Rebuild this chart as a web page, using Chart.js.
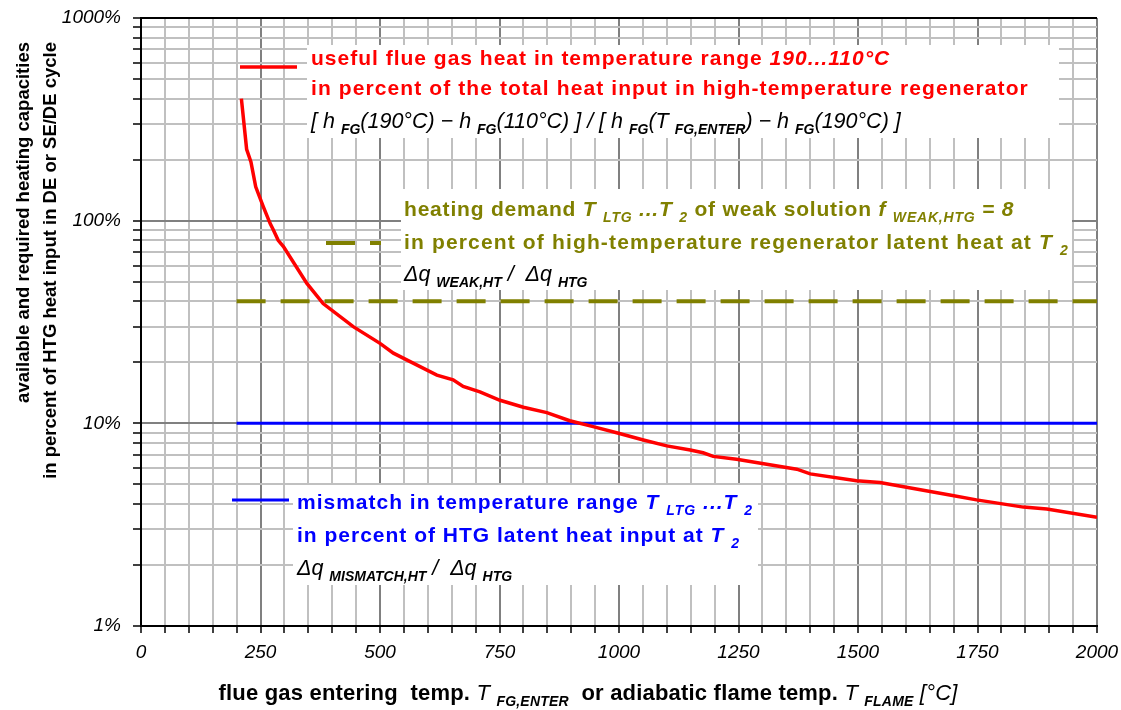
<!DOCTYPE html>
<html>
<head>
<meta charset="utf-8">
<script src="https://cdn.jsdelivr.net/npm/chart.js@4.4.0/dist/chart.umd.min.js"></script>
<style>
  html, body { margin: 0; padding: 0; background: #fff; }
  canvas { display: block; }
</style>
</head>
<body>
<canvas id="chart" width="1121" height="710"></canvas>
<script>
// dati (asse x in °C, asse y in %)
const flueGasTemp = [210, 221, 230, 240, 256, 270, 277, 287, 298, 347, 381, 444, 500, 528, 619, 653, 674, 709,
    751, 800, 849, 897, 946, 999, 1051, 1100, 1149, 1176, 1197, 1246, 1372, 1400, 1497, 1546, 1692, 1748, 1846, 1895, 2000];
const usefulHeatPct = [400, 225, 195, 147, 117, 97, 90, 80, 74.5, 49, 39, 30, 24.8, 22.2, 17.3, 16.4, 15.2, 14.3,
    13.0, 12.0, 11.3, 10.3, 9.63, 8.93, 8.28, 7.74, 7.39, 7.16, 6.87, 6.65, 5.94, 5.63, 5.21, 5.1, 4.43, 4.19, 3.86, 3.78, 3.44];
const lineTemp = [200, 2000];
const mismatchPct = [10, 10];
const weakDemandPct = [40, 40];

const xTickValues = [0, 250, 500, 750, 1000, 1250, 1500, 1750, 2000];
const yTickValues = [1, 10, 100, 1000];

const FONT = '"Liberation Sans", Arial, sans-serif';
const RED = '#ff0000', OLIVE = '#808000', BLUE = '#0000ff';

function toPoints(xs, ys) {
    return xs.map((x, i) => ({ x: x, y: ys[i] }));
}

// testo "ricco": segmenti [testo, stile, pedice, colore]
function setFont(ctx, style, size) {
    const it = style.includes('i') ? 'italic ' : '';
    const bd = style.includes('b') ? 'bold ' : '';
    ctx.font = it + bd + size + 'px ' + FONT;
}

function drawRich(ctx, x, y, segs, opt) {
    const size = opt.size, subSize = opt.subSize || Math.round(size * 0.62);
    ctx.save();
    ctx.textBaseline = 'alphabetic';
    ctx.textAlign = 'left';
    ctx.letterSpacing = (opt.spacing || 0) + 'px';
    let total = 0;
    segs.forEach(s => {
        setFont(ctx, s[1], s[2] ? subSize : size);
        total += ctx.measureText(s[0]).width;
    });
    let cx = x;
    if (opt.align === 'center') cx = x - total / 2;
    if (opt.align === 'right') cx = x - total;
    segs.forEach(s => {
        setFont(ctx, s[1], s[2] ? subSize : size);
        ctx.fillStyle = s[3] || opt.color;
        ctx.fillText(s[0], cx, s[2] ? y + size * 0.28 : y);
        cx += ctx.measureText(s[0]).width;
    });
    ctx.restore();
}

const notesPlugin = {
    id: 'notes',
    beforeDatasetsDraw(chart) {
        const ctx = chart.ctx;
        ctx.save();
        // riquadri bianchi delle legende
        ctx.fillStyle = '#fff';
        ctx.fillRect(307, 45, 752, 93);
        ctx.fillRect(401, 189, 671, 101);
        ctx.fillRect(293, 485, 465, 100);

        // chiavi delle linee
        ctx.lineWidth = 3.5;
        ctx.strokeStyle = RED;
        ctx.beginPath(); ctx.moveTo(240, 67); ctx.lineTo(297, 67); ctx.stroke();
        ctx.strokeStyle = BLUE;
        ctx.lineWidth = 3;
        ctx.beginPath(); ctx.moveTo(232, 500); ctx.lineTo(289, 500); ctx.stroke();
        ctx.strokeStyle = OLIVE;
        ctx.lineWidth = 4;
        ctx.setLineDash([29, 15]);
        ctx.beginPath(); ctx.moveTo(326, 243); ctx.lineTo(381, 243); ctx.stroke();
        ctx.setLineDash([]);
        ctx.restore();

        const big = { size: 21, subSize: 14, spacing: 1 };
        const fml = { size: 21.5, subSize: 14, spacing: 0, color: '#000' };

        drawRich(ctx, 311, 65, [['useful flue gas heat in temperature range ', 'b'], ['190...110°C', 'bi']], { ...big, color: RED });
        drawRich(ctx, 311, 95, [['in percent of the total heat input in high-temperature regenerator', 'b']], { ...big, spacing: 1.1, color: RED });
        drawRich(ctx, 311, 128, [
            ['[ h ', 'i'], ['FG', 'bi', true], ['(190°C) − h ', 'i'], ['FG', 'bi', true],
            ['(110°C) ] / [ h ', 'i'], ['FG', 'bi', true], ['(T ', 'i'], ['FG,ENTER', 'bi', true],
            [') − h ', 'i'], ['FG', 'bi', true], ['(190°C) ]', 'i']
        ], fml);

        drawRich(ctx, 404, 216, [
            ['heating demand ', 'b'], ['T ', 'bi'], ['LTG', 'bi', true], [' ...T ', 'bi'], ['2', 'bi', true],
            [' of weak solution ', 'b'], ['f ', 'bi'], ['WEAK,HTG', 'bi', true], [' = 8', 'bi']
        ], { ...big, spacing: 0.8, color: OLIVE });
        drawRich(ctx, 404, 249, [['in percent of high-temperature regenerator latent heat at ', 'b'], ['T ', 'bi'], ['2', 'bi', true]],
            { ...big, spacing: 1.15, color: OLIVE });
        drawRich(ctx, 404, 281, [['Δq ', 'i'], ['WEAK,HT', 'bi', true], [' /  Δq ', 'i'], ['HTG', 'bi', true]], fml);

        drawRich(ctx, 297, 509, [
            ['mismatch in temperature range ', 'b'], ['T ', 'bi'], ['LTG', 'bi', true], [' ...T ', 'bi'], ['2', 'bi', true]
        ], { ...big, color: BLUE });
        drawRich(ctx, 297, 542, [['in percent of HTG latent heat input at ', 'b'], ['T ', 'bi'], ['2', 'bi', true]],
            { ...big, color: BLUE });
        drawRich(ctx, 297, 575, [['Δq ', 'i'], ['MISMATCH,HT', 'bi', true], [' /  Δq ', 'i'], ['HTG', 'bi', true]], fml);
    },
    afterDraw(chart) {
        const ctx = chart.ctx;
        // titolo asse x
        drawRich(ctx, 588, 700, [
            ['flue gas entering  temp. ', 'b'], ['T ', 'i'], ['FG,ENTER', 'bi', true],
            ['  or adiabatic flame temp. ', 'b'], ['T ', 'i'], ['FLAME', 'bi', true], [' [°C]', 'i']
        ], { size: 22, subSize: 14, spacing: 0.2, color: '#000', align: 'center' });
        // titolo asse y (due righe ruotate, allineate in alto)
        ctx.save();
        ctx.translate(22, 42);
        ctx.rotate(-Math.PI / 2);
        drawRich(ctx, 0, 7, [['available and required heating capacities', 'b']], { size: 18.5, color: '#000', align: 'right' });
        ctx.restore();
        ctx.save();
        ctx.translate(49, 42);
        ctx.rotate(-Math.PI / 2);
        drawRich(ctx, 0, 7, [['in percent of HTG heat input in DE or SE/DE cycle', 'b']], { size: 18.5, color: '#000', align: 'right' });
        ctx.restore();
    }
};

const ctx = document.getElementById('chart').getContext('2d');
new Chart(ctx, {
    type: 'scatter',
    data: {
        datasets: [
            {
                label: 'useful flue gas heat',
                data: toPoints(flueGasTemp, usefulHeatPct),
                showLine: true,
                borderColor: RED,
                borderWidth: 3.5,
                pointRadius: 0,
                order: 0
            },
            {
                label: 'heating demand',
                data: toPoints(lineTemp, weakDemandPct),
                showLine: true,
                borderColor: OLIVE,
                borderWidth: 4,
                borderDash: [29, 15],
                pointRadius: 0,
                order: 1
            },
            {
                label: 'mismatch',
                data: toPoints(lineTemp, mismatchPct),
                showLine: true,
                borderColor: BLUE,
                borderWidth: 3,
                pointRadius: 0,
                order: 2
            }
        ]
    },
    options: {
        responsive: false,
        animation: false,
        layout: { padding: { top: 18, right: 24, left: 0, bottom: 0 } },
        plugins: {
            legend: { display: false },
            tooltip: { enabled: false }
        },
        scales: {
            x: {
                type: 'linear',
                min: 0,
                max: 2000,
                afterBuildTicks: scale => {
                    const t = [];
                    for (let v = 0; v <= 2000; v += 50) t.push({ value: v });
                    scale.ticks = t;
                },
                afterFit: scale => {
                    scale.height = 84;
                    scale.paddingLeft = 0;
                    scale.paddingRight = 0;
                },
                ticks: {
                    autoSkip: false,
                    maxRotation: 0,
                    padding: 8,
                    color: '#000',
                    font: { family: FONT, size: 19, style: 'italic' },
                    callback: v => xTickValues.includes(v) ? String(v) : ''
                },
                grid: {
                    color: c => (c.tick && c.tick.value % 250 === 0) ? '#808080' : '#c0c0c0',
                    lineWidth: 2,
                    tickColor: '#000',
                    tickLength: 7,
                    tickWidth: 1.5
                },
                border: { color: '#000', width: 2 }
            },
            y: {
                type: 'logarithmic',
                min: 1,
                max: 1000,
                afterBuildTicks: scale => {
                    const t = [];
                    [1, 10, 100].forEach(d => {
                        for (let m = 1; m <= 9; m++) t.push({ value: m * d });
                    });
                    t.push({ value: 1000 });
                    scale.ticks = t;
                },
                afterFit: scale => {
                    scale.width = 141;
                    scale.paddingTop = 0;
                    scale.paddingBottom = 0;
                },
                ticks: {
                    autoSkip: false,
                    padding: 12,
                    color: '#000',
                    font: { family: FONT, size: 19, style: 'italic' },
                    callback: v => yTickValues.includes(Math.round(v)) ? Math.round(v) + '%' : ''
                },
                grid: {
                    color: c => {
                        if (!c.tick) return '#c0c0c0';
                        const v = Math.round(c.tick.value);
                        if (v === 1000) return '#000';
                        return yTickValues.includes(v) ? '#808080' : '#c0c0c0';
                    },
                    lineWidth: 2,
                    tickColor: '#000',
                    tickLength: 8,
                    tickWidth: 1.5
                },
                border: { color: '#000', width: 2 }
            }
        }
    },
    plugins: [notesPlugin]
});
</script>
</body>
</html>
